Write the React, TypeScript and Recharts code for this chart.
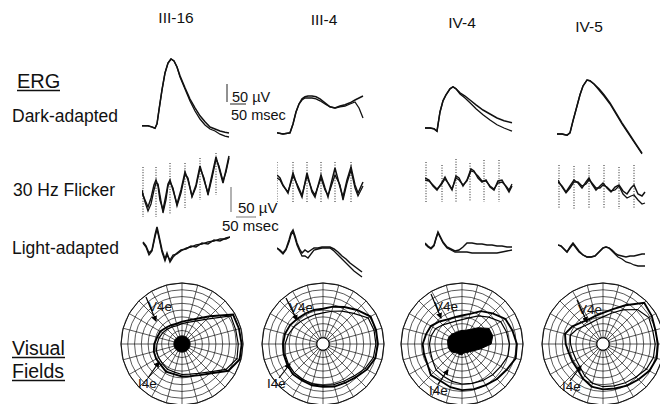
import {
  LineChart,
  Line,
  XAxis,
  YAxis,
  ReferenceLine,
  RadarChart,
  Radar,
  PolarGrid,
  PolarAngleAxis,
  PolarRadiusAxis,
} from "recharts";

const FONT = '"Liberation Sans", Arial, Helvetica, sans-serif';

// ---- column / row labels ----
const SUBJECTS = ["III-16", "III-4", "IV-4", "IV-5"];

// ---- dark-adapted ERG (ms, µV) ----
const DA_III16_T = [0, 18, 30, 39, 45, 51, 60, 69, 78, 87, 96, 105, 114, 129, 144, 159, 174, 189, 204, 219, 234, 249, 261];
const DA_III16_A = [3, 3, 0, -3, 8, 43, 93, 135, 160, 170, 165, 150, 128, 98, 70, 48, 28, 13, 0, -5, -10, -13, -15];
const DA_III16_B = [3, 3, 0, -3, 8, 43, 93, 135, 160, 170, 165, 150, 125, 95, 65, 40, 20, 5, -5, -10, -18, -23, -25];

const DA_III4_T = [0, 18, 39, 48, 57, 66, 75, 84, 93, 105, 117, 129, 144, 159, 174, 189, 204, 219, 234, 246, 258];
const DA_III4_A = [3, 0, 3, 25, 55, 75, 88, 93, 95, 95, 93, 88, 78, 68, 65, 70, 73, 78, 85, 90, 95];
const DA_III4_B = [3, 0, 3, 25, 55, 75, 85, 90, 90, 90, 88, 83, 75, 68, 65, 68, 70, 75, 80, 65, 40];

const DA_IV4_T = [0, 15, 27, 36, 45, 54, 63, 75, 84, 93, 105, 120, 135, 153, 174, 195, 216, 237, 261];
const DA_IV4_A = [5, 5, 3, -3, 45, 73, 88, 103, 108, 103, 93, 85, 75, 63, 50, 40, 30, 23, 18];
const DA_IV4_B = [5, 5, 3, -3, 45, 73, 88, 103, 108, 103, 90, 80, 68, 53, 38, 25, 13, 5, -3];

const DA_IV5_T = [0, 15, 30, 39, 48, 60, 69, 78, 90, 99, 111, 126, 141, 159, 177, 195, 213, 231, 243, 255];
const DA_IV5_A = [0, 0, -3, 3, 33, 70, 98, 120, 135, 133, 125, 113, 98, 78, 53, 28, 5, -18, -33, -48];
const DA_IV5_B = [0, 0, -3, 3, 33, 70, 98, 120, 135, 133, 125, 110, 95, 75, 50, 25, 3, -20, -35, -50];

// ---- 30 Hz flicker (ms, µV) + stimulus markers ----
const FL_III16_T = [0, 6, 12, 18, 24, 28, 32, 36, 42, 48, 52, 56, 62, 70, 78, 86, 92, 100, 108, 116, 124, 132, 140, 148, 154, 162, 168, 174];
const FL_III16_A = [-6, -20, -34, -16, 10, 20, 8, -20, -40, -10, 12, 20, 0, -28, 0, 36, 20, -12, 10, 48, 20, -6, 30, 66, 44, 14, 40, 68];
const FL_III16_B = [0, -24, -42, -28, 0, 14, 12, -10, -46, -20, 8, 16, 4, -32, -6, 32, 24, -14, 6, 44, 24, -10, 24, 62, 48, 18, 36, 64];
const FL_III16_MARK = [2, 28, 56, 86, 116, 148];
const FL_III16_TOP = [46, 46, 54, 54, 64, 74];
const FL_III16_BOT = [-54, -54, -50, -36, -20, -10];

const FL_III4_T = [0, 6, 12, 22, 32, 42, 50, 60, 70, 76, 88, 96, 102, 106, 116, 126, 132, 140, 148, 156, 162, 172];
const FL_III4_A = [30, 24, 10, -6, 34, 4, -14, 34, -4, -14, 30, 4, -14, 4, 44, 6, -14, 20, 46, 10, -6, 16];
const FL_III4_B = [24, 20, 8, -4, 28, 8, -10, 28, 0, -10, 24, 0, -10, 0, 30, 10, -20, 14, 40, 4, -12, 8];
const FL_III4_MARK = [0, 32, 60, 88, 116, 148];
const FL_III4_TOP = [56, 56, 56, 56, 56, 56];
const FL_III4_BOT = [-24, -24, -24, -24, -24, -24];

const FL_IV4_T = [0, 8, 16, 24, 32, 40, 48, 54, 62, 68, 76, 84, 92, 98, 106, 114, 122, 130, 138, 146, 154, 162, 168, 174];
const FL_IV4_A = [24, 20, 8, 0, 12, 26, 10, 0, 28, 24, 8, 20, 42, 38, 24, 16, 20, 6, 0, 18, 20, 6, -4, 8];
const FL_IV4_B = [20, 18, 10, 2, 10, 22, 12, 2, 24, 20, 10, 18, 38, 36, 28, 18, 18, 8, 2, 14, 16, 8, 0, 12];
const FL_IV4_MARK = [2, 34, 62, 90, 118, 148];
const FL_IV4_TOP = [56, 50, 62, 54, 60, 60];
const FL_IV4_BOT = [-24, -24, -24, -24, -24, -24];

const FL_IV5_T = [0, 8, 16, 24, 32, 40, 48, 56, 62, 68, 76, 84, 90, 98, 106, 114, 122, 130, 138, 146, 152, 160, 168, 174];
const FL_IV5_A = [16, 8, -4, 8, 20, 14, 4, 16, 24, 12, 0, 8, 14, 4, -4, 6, 10, -2, -8, 4, 10, -8, -12, -4];
const FL_IV5_B = [20, 6, -6, 4, 16, 16, 8, 12, 20, 14, 4, 4, 10, 6, -2, 0, 8, -8, -16, -12, -10, -20, -28, -26];
const FL_IV5_MARK = [2, 32, 62, 92, 122, 152];
const FL_IV5_TOP = [50, 48, 50, 50, 46, 50];
const FL_IV5_BOT = [-38, -38, -38, -38, -38, -38];

// ---- light-adapted ERG (ms, µV) ----
const LA_III16_T = [2, 8, 14, 20, 26, 30, 34, 40, 46, 50, 56, 62, 70, 78, 88, 98, 108, 120, 132, 144, 156, 168, 176];
const LA_III16_A = [16, 8, -6, 0, 30, 46, 28, 0, -18, -6, -24, -14, -6, 0, 2, 8, 6, 14, 12, 20, 18, 24, 26];
const LA_III16_B = [14, 6, -10, -2, 26, 42, 24, -4, -22, -10, -20, -10, -8, -2, 4, 6, 10, 12, 16, 18, 22, 22, 26];

const LA_III4_T = [0, 6, 12, 18, 24, 28, 32, 36, 40, 46, 50, 56, 62, 68, 74, 82, 90, 98, 106, 114, 122, 130, 138, 146, 154, 162, 170];
const LA_III4_A = [4, 0, -6, 2, 20, 34, 40, 28, 14, 0, -6, 0, -4, 0, 4, 4, 6, 6, 6, 2, -4, -12, -18, -26, -32, -38, -44];
const LA_III4_B = [4, -2, -8, 0, 16, 30, 36, 24, 10, -4, -12, -12, -16, -8, 0, 2, 4, 4, 4, -2, -10, -18, -26, -34, -42, -48, -54];

const LA_IV4_T = [0, 6, 12, 18, 22, 26, 30, 36, 44, 52, 60, 68, 76, 84, 94, 104, 114, 124, 134, 144, 154, 164, 174];
const LA_IV4_A = [14, 8, 4, 10, 24, 36, 28, 16, 6, 2, -2, 0, 6, 14, 14, 12, 12, 10, 10, 8, 8, 6, 6];
const LA_IV4_B = [12, 6, 2, 8, 22, 34, 26, 14, 4, 0, -4, -4, -4, -4, -6, -6, -6, -6, -6, -6, -4, -2, 0];

const LA_IV5_T = [0, 6, 12, 18, 24, 30, 36, 42, 50, 58, 66, 74, 82, 90, 96, 102, 108, 114, 120, 128, 136, 144, 152, 160, 168, 174];
const LA_IV5_A = [10, 8, 2, -4, 6, 14, 6, -2, -10, -14, -14, -12, -4, 4, 6, 4, 0, -6, -10, -12, -14, -12, -12, -10, -8, -8];
const LA_IV5_B = [10, 8, 2, -4, 4, 12, 4, -4, -10, -14, -14, -12, -4, 4, 6, 4, -2, -8, -14, -18, -24, -26, -30, -32, -32, -32];

// ---- visual fields (degrees of eccentricity per 15° meridian, 0° = right, counter-clockwise) ----
const ANGLES = [0, 15, 30, 45, 60, 75, 90, 105, 120, 135, 150, 165, 180, 195, 210, 225, 240, 255, 270, 285, 300, 315, 330, 345];
const RINGS = [10, 20, 30, 40, 50, 60, 70, 80, 90];

const VF_III16_V4E = [87, 87, 58, 43, 36, 33, 31, 32, 34, 37, 38, 41, 43, 44, 44, 47, 46, 48, 49, 53, 61, 79, 88, 88];
const VF_III16_I4E = [82, 83, 52, 39, 33, 30, 28, 29, 31, 33, 35, 37, 39, 40, 41, 43, 43, 45, 46, 50, 58, 75, 84, 83];
const VF_III16_CORE = [12, 12, 12, 12, 12, 12, 12, 12, 12, 12, 12, 12, 12, 12, 12, 12, 12, 12, 12, 12, 12, 12, 12, 12];

const VF_III4_V4E = [81, 81, 71, 63, 57, 52, 52, 52, 53, 56, 58, 59, 60, 61, 63, 62, 63, 63, 65, 66, 69, 75, 80, 81];
const VF_III4_I4E = [78, 77, 64, 56, 50, 46, 45, 45, 47, 50, 53, 56, 58, 59, 60, 60, 61, 61, 62, 63, 66, 72, 77, 78];
const VF_III4_CORE = [9, 9, 9, 9, 9, 9, 9, 9, 9, 9, 9, 9, 9, 9, 9, 9, 9, 9, 9, 9, 9, 9, 9, 9];

const VF_IV4_V4E = [77, 74, 64, 56, 46, 42, 41, 42, 47, 53, 55, 58, 58, 59, 65, 63, 66, 68, 69, 70, 73, 76, 82, 81];
const VF_IV4_I4E = [68, 66, 56, 48, 40, 36, 35, 36, 40, 45, 47, 48, 48, 50, 54, 55, 57, 59, 60, 62, 64, 66, 70, 70];
const VF_IV4_CORE = [47, 46, 34, 25, 21, 20, 19, 19, 21, 22, 22, 21, 21, 20, 18, 15, 16, 16, 13, 15, 16, 20, 28, 43];

const VF_IV5_V4E = [80, 83, 86, 66, 53, 46, 43, 42, 45, 52, 58, 55, 52, 52, 53, 59, 65, 67, 68, 71, 74, 79, 82, 81];
const VF_IV5_I4E = [76, 78, 72, 58, 47, 40, 37, 36, 38, 44, 50, 48, 46, 46, 48, 54, 60, 63, 64, 66, 69, 74, 77, 77];
const VF_IV5_CORE = [9, 9, 9, 9, 9, 9, 9, 9, 9, 9, 9, 9, 9, 9, 9, 9, 9, 9, 9, 9, 9, 9, 9, 9];

type TraceProps = {
  left: number;
  top: number;
  width: number;
  height: number;
  xMax: number;
  yMax: number;
  t: number[];
  a: number[];
  b: number[];
  mark?: number[];
  markTop?: number[];
  markBot?: number[];
};

function Trace({ left, top, width, height, xMax, yMax, t, a, b, mark, markTop, markBot }: TraceProps) {
  const data = t.map((v, i) => ({ t: v, a: a[i], b: b[i] }));
  return (
    <div style={{ position: "absolute", left, top }}>
      <LineChart width={width} height={height} data={data} margin={{ top: 0, right: 0, bottom: 0, left: 0 }}>
        <XAxis type="number" dataKey="t" domain={[0, xMax]} hide allowDataOverflow />
        <YAxis type="number" domain={[-yMax, yMax]} hide allowDataOverflow />
        {mark &&
          mark.map((m, i) => (
            <ReferenceLine
              key={i}
              segment={[
                { x: m, y: markTop![i] },
                { x: m, y: markBot![i] },
              ]}
              stroke="#222"
              strokeWidth={1}
              strokeDasharray="1 1.6"
            />
          ))}
        <Line type="linear" dataKey="b" stroke="#111" strokeWidth={1.3} dot={false} isAnimationActive={false} />
        <Line type="linear" dataKey="a" stroke="#111" strokeWidth={1.5} dot={false} isAnimationActive={false} />
      </LineChart>
    </div>
  );
}

type FieldProps = {
  cx: number;
  cy: number;
  v4e: number[];
  i4e: number[];
  core: number[];
  coreFill: string;
};

function Field({ cx, cy, v4e, i4e, core, coreFill }: FieldProps) {
  const data = ANGLES.map((ang, i) => ({ angle: ang, v4e: v4e[i], i4e: i4e[i], core: core[i] }));
  return (
    <div style={{ position: "absolute", left: cx - 65, top: cy - 65 }}>
      <RadarChart
        width={130}
        height={130}
        cx={65}
        cy={65}
        outerRadius={61}
        startAngle={0}
        endAngle={360}
        data={data}
        margin={{ top: 0, right: 0, bottom: 0, left: 0 }}
      >
        <PolarGrid gridType="circle" stroke="#111" strokeWidth={0.7} />
        <PolarAngleAxis dataKey="angle" tick={false} axisLine={{ stroke: "#111", strokeWidth: 1 }} />
        <PolarRadiusAxis type="number" domain={[0, 90]} ticks={RINGS} tick={false} axisLine={false} />
        <Radar dataKey="core" fill={coreFill} fillOpacity={1} stroke="#000" strokeWidth={1} dot={false} isAnimationActive={false} />
        <Radar dataKey="i4e" fill="none" stroke="#000" strokeWidth={1.2} dot={false} isAnimationActive={false} />
        <Radar dataKey="v4e" fill="none" stroke="#000" strokeWidth={1.9} dot={false} isAnimationActive={false} />
      </RadarChart>
    </div>
  );
}

const DA = { width: 88, height: 160, xMax: 264, yMax: 200 };
const FL = { width: 88, height: 100, xMax: 176, yMax: 100 };

export default function App() {
  const txt = { fontFamily: FONT, fill: "#111" } as const;
  return (
    <div
      style={{
        position: "absolute",
        left: 0,
        top: 0,
        width: 660,
        height: 404,
        overflow: "hidden",
        background: "#fff",
      }}
    >
      {/* dark-adapted */}
      <Trace left={142} top={47} {...DA} t={DA_III16_T} a={DA_III16_A} b={DA_III16_B} />
      <Trace left={277} top={54} {...DA} t={DA_III4_T} a={DA_III4_A} b={DA_III4_B} />
      <Trace left={425} top={50} {...DA} t={DA_IV4_T} a={DA_IV4_A} b={DA_IV4_B} />
      <Trace left={557} top={54} {...DA} t={DA_IV5_T} a={DA_IV5_A} b={DA_IV5_B} />

      {/* 30 Hz flicker */}
      <Trace left={142} top={140} {...FL} t={FL_III16_T} a={FL_III16_A} b={FL_III16_B} mark={FL_III16_MARK} markTop={FL_III16_TOP} markBot={FL_III16_BOT} />
      <Trace left={277} top={140} {...FL} t={FL_III4_T} a={FL_III4_A} b={FL_III4_B} mark={FL_III4_MARK} markTop={FL_III4_TOP} markBot={FL_III4_BOT} />
      <Trace left={425} top={140} {...FL} t={FL_IV4_T} a={FL_IV4_A} b={FL_IV4_B} mark={FL_IV4_MARK} markTop={FL_IV4_TOP} markBot={FL_IV4_BOT} />
      <Trace left={558} top={140} {...FL} t={FL_IV5_T} a={FL_IV5_A} b={FL_IV5_B} mark={FL_IV5_MARK} markTop={FL_IV5_TOP} markBot={FL_IV5_BOT} />

      {/* light-adapted */}
      <Trace left={142} top={200} {...FL} t={LA_III16_T} a={LA_III16_A} b={LA_III16_B} />
      <Trace left={277} top={200} {...FL} t={LA_III4_T} a={LA_III4_A} b={LA_III4_B} />
      <Trace left={425} top={200} {...FL} t={LA_IV4_T} a={LA_IV4_A} b={LA_IV4_B} />
      <Trace left={558} top={200} {...FL} t={LA_IV5_T} a={LA_IV5_A} b={LA_IV5_B} />

      {/* visual fields */}
      <Field cx={182} cy={344} v4e={VF_III16_V4E} i4e={VF_III16_I4E} core={VF_III16_CORE} coreFill="#000" />
      <Field cx={323} cy={344} v4e={VF_III4_V4E} i4e={VF_III4_I4E} core={VF_III4_CORE} coreFill="#fff" />
      <Field cx={462} cy={344} v4e={VF_IV4_V4E} i4e={VF_IV4_I4E} core={VF_IV4_CORE} coreFill="#000" />
      <Field cx={603} cy={344} v4e={VF_IV5_V4E} i4e={VF_IV5_I4E} core={VF_IV5_CORE} coreFill="#fff" />

      <svg width={660} height={404} style={{ position: "absolute", left: 0, top: 0, pointerEvents: "none" }}>
        <defs>
          <marker id="ah" viewBox="0 0 6 6" refX="5" refY="3" markerWidth="5" markerHeight="5" orient="auto">
            <path d="M0,0 L6,3 L0,6 z" fill="#000" />
          </marker>
        </defs>

        {/* column titles */}
        <text x={176} y={23} textAnchor="middle" fontSize={15.5} {...txt}>{SUBJECTS[0]}</text>
        <text x={324} y={25} textAnchor="middle" fontSize={15.5} {...txt}>{SUBJECTS[1]}</text>
        <text x={462} y={28} textAnchor="middle" fontSize={15.5} {...txt}>{SUBJECTS[2]}</text>
        <text x={589} y={32} textAnchor="middle" fontSize={15.5} {...txt}>{SUBJECTS[3]}</text>

        {/* row labels */}
        <text x={17} y={88} fontSize={20} {...txt}>ERG</text>
        <line x1={17} y1={90.5} x2={60} y2={90.5} stroke="#111" strokeWidth={1.3} />
        <text x={12} y={122} fontSize={17.5} {...txt}>Dark-adapted</text>
        <text x={13} y={196} fontSize={17.5} {...txt}>30 Hz Flicker</text>
        <text x={12} y={254} fontSize={17.5} {...txt}>Light-adapted</text>
        <text x={12} y={355} fontSize={19.5} {...txt}>Visual</text>
        <line x1={12} y1={357.5} x2={65} y2={357.5} stroke="#111" strokeWidth={1.3} />
        <text x={12} y={378} fontSize={19.5} {...txt}>Fields</text>
        <line x1={12} y1={380.5} x2={65} y2={380.5} stroke="#111" strokeWidth={1.3} />

        {/* scale bars */}
        <line x1={227} y1={84} x2={227} y2={102} stroke="#222" strokeWidth={1} />
        <line x1={230} y1={104} x2={246} y2={104} stroke="#222" strokeWidth={1} />
        <text x={232} y={102} fontSize={14.5} {...txt}>50 µV</text>
        <text x={231} y={120} fontSize={14.5} {...txt}>50 msec</text>

        <line x1={231} y1={187} x2={231} y2={212} stroke="#999" strokeWidth={1.5} />
        <line x1={236} y1={217} x2={256} y2={217} stroke="#999" strokeWidth={1.3} />
        <text x={238} y={213} fontSize={15} {...txt}>50 µV</text>
        <text x={222} y={231} fontSize={15} {...txt}>50 msec</text>

        {/* isopter labels */}
        <g fontSize={13.5} {...txt}>
          <text x={148} y={311}>V4e</text>
          <text x={138} y={388}>I4e</text>
          <text x={289} y={312}>V4e</text>
          <text x={267} y={388}>I4e</text>
          <text x={434} y={311}>V4e</text>
          <text x={429} y={395}>I4e</text>
          <text x={578} y={314}>V4e</text>
          <text x={562} y={391}>I4e</text>
        </g>
        <g stroke="#000" strokeWidth={1.2} markerEnd="url(#ah)">
          <line x1={146} y1={297} x2={156} y2={321} />
          <line x1={148} y1={378} x2={159} y2={362} />
          <line x1={286} y1={298} x2={297} y2={320} />
          <line x1={279} y1={378} x2={290} y2={364} />
          <line x1={431} y1={294} x2={441} y2={318} />
          <line x1={438} y1={384} x2={448} y2={370} />
          <line x1={577} y1={300} x2={587} y2={322} />
          <line x1={570} y1={381} x2={581} y2={366} />
        </g>
      </svg>
    </div>
  );
}
